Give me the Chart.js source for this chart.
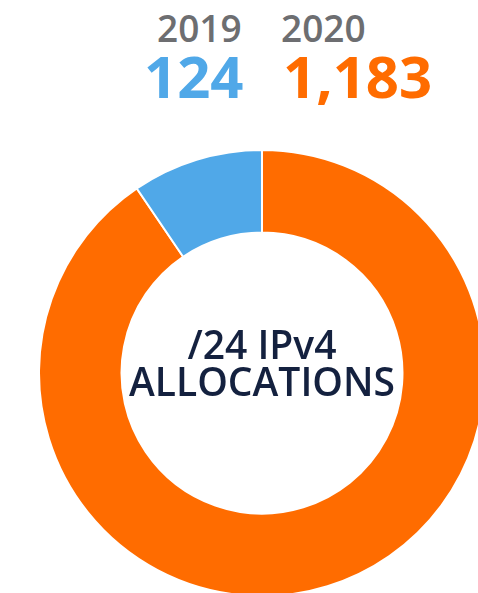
<!DOCTYPE html>
<html>
<head>
<meta charset="utf-8">
<script src="https://cdn.jsdelivr.net/npm/chart.js@4/dist/chart.umd.min.js"></script>
<style>
    html, body { margin: 0; padding: 0; width: 478px; height: 593px; overflow: hidden; background: #fff; font-family: "Open Sans", sans-serif; }
    #wrap { position: relative; width: 478px; height: 593px; overflow: hidden; }
    #alloc { position: absolute; left: 38px; top: 149px; }
    .lbl { position: absolute; white-space: nowrap; line-height: 1; }
    .year { font-size: 37px; font-weight: 600; color: #6d6e71; top: 9px; }
    .num { font-size: 58px; font-weight: 700; top: 47px; }
    .center { position: absolute; left: 112px; width: 300px; text-align: center; color: #14213f; font-weight: 600; font-size: 39px; line-height: 37px; top: 325px; }
</style>
</head>
<body>
<div id="wrap">
    <canvas id="alloc" width="448" height="448"></canvas>
    <div class="lbl year" id="y0" style="left:157px"></div>
    <div class="lbl year" id="y1" style="left:281px"></div>
    <div class="lbl num" id="n0" style="left:144px"></div>
    <div class="lbl num" id="n1" style="left:283px"></div>
    <div class="center">/24 IPv4<br>ALLOCATIONS</div>
</div>
<script>
    var years = ['2019', '2020'];
    var counts = [124, 1183];
    var colors = ['#50a8e8', '#ff6c00'];

    document.getElementById('y0').textContent = years[0];
    document.getElementById('y1').textContent = years[1];
    document.getElementById('n0').textContent = counts[0].toLocaleString('en-US');
    document.getElementById('n1').textContent = counts[1].toLocaleString('en-US');
    document.getElementById('n0').style.color = colors[0];
    document.getElementById('n1').style.color = colors[1];

    // 2020 first so the 2019 slice ends at 12 o'clock
    new Chart(document.getElementById('alloc').getContext('2d'), {
        type: 'doughnut',
        data: {
            labels: [years[1], years[0]],
            datasets: [{
                data: [counts[1], counts[0]],
                backgroundColor: [colors[1], colors[0]],
                borderColor: '#ffffff',
                borderWidth: 2,
                hoverOffset: 0
            }]
        },
        options: {
            responsive: false,
            maintainAspectRatio: false,
            animation: false,
            cutout: '63%',
            layout: { padding: 0 },
            plugins: {
                legend: { display: false },
                tooltip: { enabled: false }
            }
        }
    });
</script>
</body>
</html>
